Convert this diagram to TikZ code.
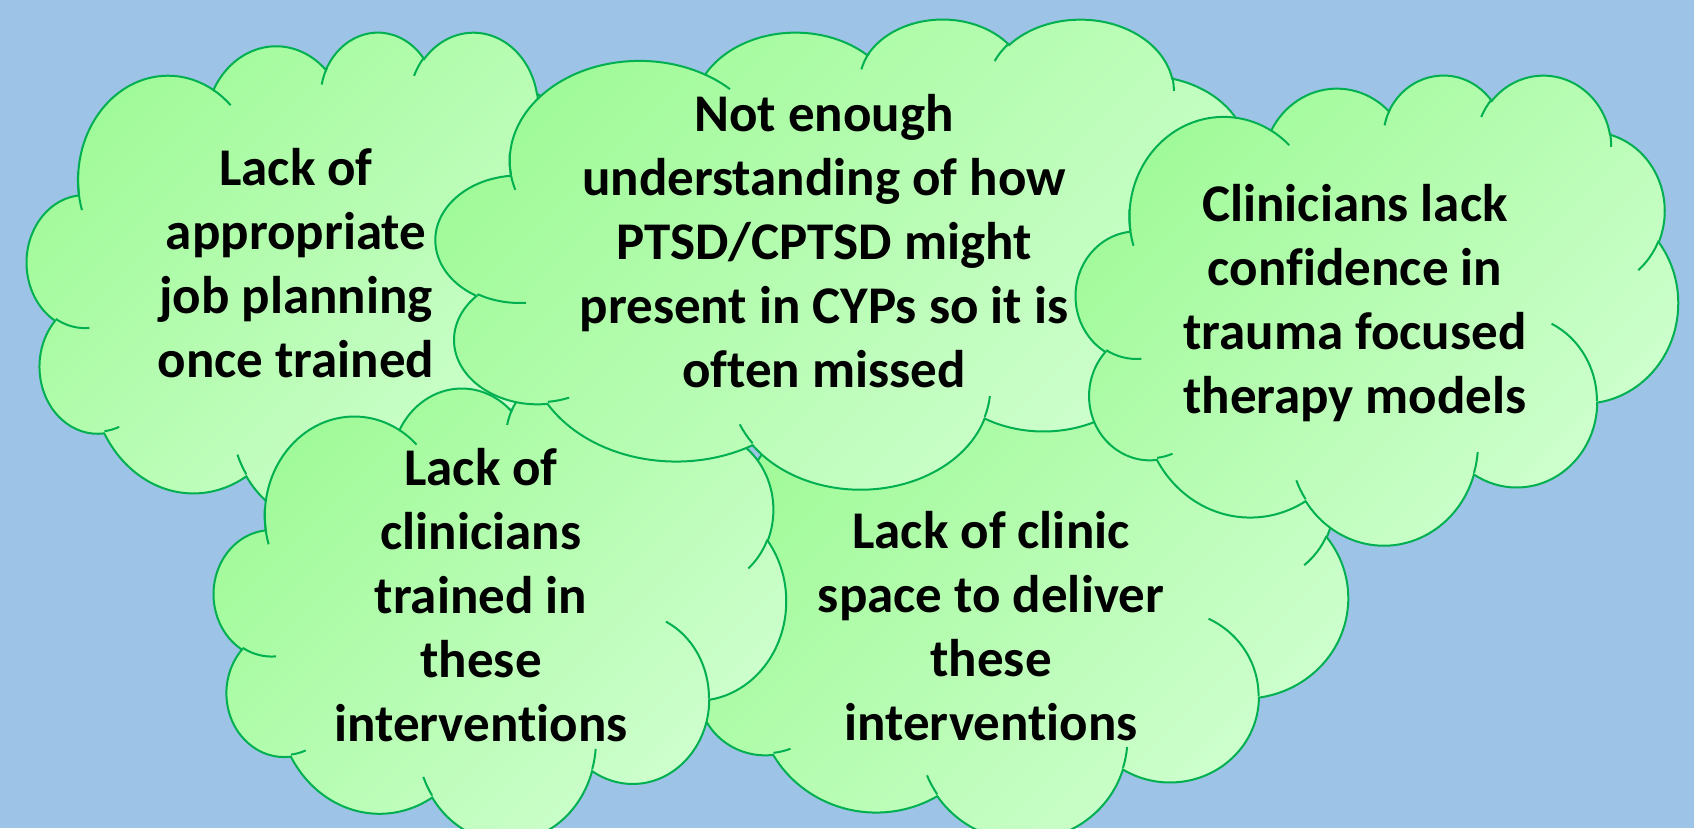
\documentclass[tikz,border=0pt]{standalone}
\usepackage{fontspec}
\setmainfont{Carlito}[Ligatures={NoCommon}]
\definecolor{bgblue}{RGB}{157,195,230}
\definecolor{cloudedge}{RGB}{0,176,80}
\definecolor{cloudtop}{RGB}{160,250,152}
\definecolor{cloudbot}{RGB}{208,255,208}
\tikzset{
  ca/.style n args={4}{x radius=#1, y radius=#2,
    start angle={vang(#1,#2,#3)},
    delta angle={mod(vang(#1,#2,#3+#4)-vang(#1,#2,#3)+720,360)}},
  cloudbody/.style={draw=cloudedge, line width=2pt, top color=cloudtop, bottom color=cloudbot, shading angle=45},
  cloudline/.style={draw=cloudedge, line width=2pt},
  cloudtext/.style={align=center, inner sep=0pt, text=black, font=\bfseries\fontsize{53}{64}\selectfont},
}
\newcommand\drawcloud[4]{%
  \pgfmathsetmacro\cw{#3/432}\pgfmathsetmacro\ch{#4/432}%
  \begin{scope}[shift={(#1,#2)}, x=\cw pt, y=-\ch pt]
    \shadedraw[cloudbody] (39.00,143.70)
      arc[ca={67.53}{91.90}{-190.4875}{123.7805}]
      arc[ca={53.33}{72.67}{-144.1024}{89.9452}]
      arc[ca={43.65}{59.45}{-145.8079}{99.7230}]
      arc[ca={48.57}{65.95}{-130.9861}{117.2417}]
      arc[ca={53.33}{72.73}{-78.7089}{109.0269}]
      arc[ca={67.75}{92.20}{-46.2673}{130.2690}]
      arc[ca={57.85}{78.67}{0.6250}{114.0333}]
      arc[ca={67.52}{92.15}{22.4516}{115.1726}]
      arc[ca={77.20}{105.43}{66.2426}{75.7110}]
      arc[ca={43.60}{59.18}{-274.9421}{146.7356}]
      arc[ca={43.45}{59.45}{-246.8285}{152.5189}] -- cycle;
    \draw[cloudline]
      (46.93,261.77) arc[ca={43.45}{59.45}{86.7420}{26.4295}]
      (69.28,348.99) arc[ca={43.60}{59.18}{73.6105}{11.4475}]
      (164.78,390.90) arc[ca={67.52}{92.15}{137.6242}{14.0811}]
      (288.27,347.51) arc[ca={67.52}{92.15}{6.4533}{15.9984}]
      (341.29,229.54) arc[ca={57.85}{78.67}{-70.2924}{70.9174}]
      (417.98,153.54) arc[ca={53.33}{72.73}{30.3180}{27.7515}]
      (383.24,54.26) arc[ca={48.57}{65.95}{-13.7443}{14.8589}]
      (290.78,39.52) arc[ca={48.57}{65.95}{-149.1815}{18.1954}]
      (221.41,47.20) arc[ca={43.65}{59.45}{-163.4943}{19.0009}]
      (140.00,51.92) arc[ca={67.53}{91.90}{-66.7070}{12.3194}]
      (41.27,157.89) arc[ca={67.53}{91.90}{157.1868}{28.2962}];
  \end{scope}}
\begin{document}
\begin{tikzpicture}[x=1pt, y=-1pt,
  declare function={vang(\w,\h,\a)=atan2(\w*sin(\a),\h*cos(\a));}]
  \useasboundingbox (0,0) rectangle (1694,828);
  \clip (0,0) rectangle (1694,828);
  \fill[bgblue] (0,0) rectangle (1694,828);
  % left cloud
  \drawcloud{27}{31}{575}{490}
  \node[cloudtext] (jobplan) at (296,263) {Lack of\\appropriate\\job planning\\once trained};
  % bottom middle cloud
  \drawcloud{684}{369}{664}{470}
  \node[cloudtext] (space) at (991,626) {Lack of clinic\\space to deliver\\these\\interventions};
  % bottom left cloud
  \drawcloud{214}{374}{572}{466}
  \node[cloudtext] (trained) at (481,595) {Lack of\\clinicians\\trained in\\these\\interventions};
  % centre cloud
  \drawcloud{436}{18}{830}{470}
  \node[cloudtext] (understanding) at (824,241) {Not enough\\understanding of how\\PTSD/CPTSD might\\present in CYPs so it is\\often missed};
  % right cloud
  \drawcloud{1076}{74}{602}{470}
  \node[cloudtext] (confidence) at (1355,303) {Clinicians lack\\confidence in\\trauma focused\\therapy models};
\end{tikzpicture}
\end{document}
